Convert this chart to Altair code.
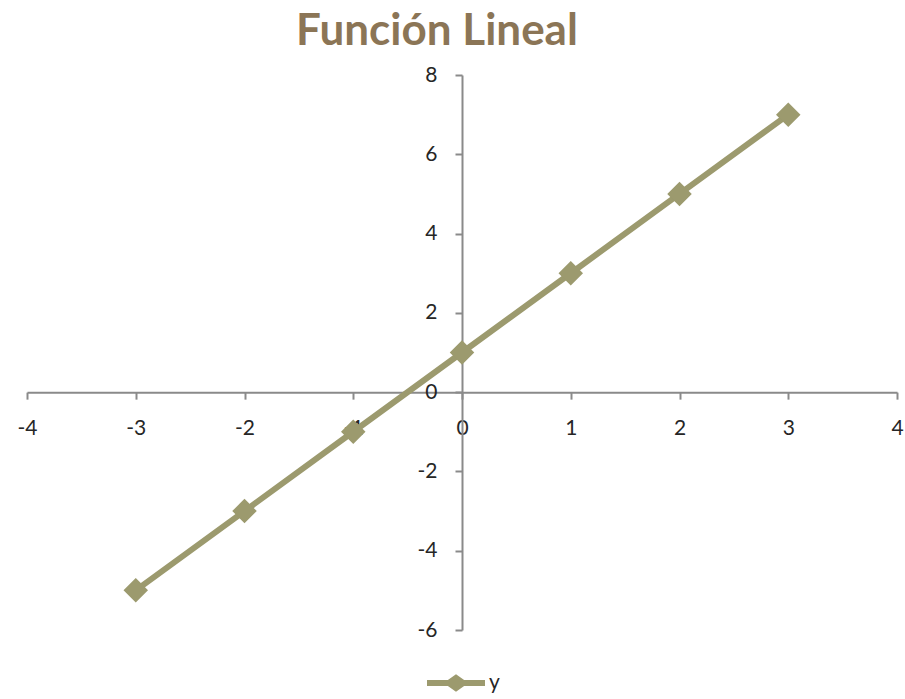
import altair as alt
import pandas as pd

# Series y = f(x) for the linear function
x_vals = [-3, -2, -1, 0, 1, 2, 3]
y_vals = [-5, -3, -1, 1, 3, 5, 7]
series_name = ["y"] * len(x_vals)

x_ticks = [-4, -3, -2, -1, 0, 1, 2, 3, 4]
y_ticks = [-6, -4, -2, 0, 2, 4, 6, 8]

df = pd.DataFrame({"x": x_vals, "y": y_vals, "serie": series_name})

W, H = 870, 555
X_DOM = [-4, 4]
Y_DOM = [-6, 8]
LINE_COLOR = "#9c9a6e"
AXIS_COLOR = "#8a8a8a"
TEXT_COLOR = "#262626"
FONT = "Lato"

# axes cross at the origin: shift them inwards by the pixel position of zero
y_axis_shift = -W * (0 - X_DOM[0]) / (X_DOM[1] - X_DOM[0])
x_axis_shift = -H * (0 - Y_DOM[0]) / (Y_DOM[1] - Y_DOM[0])

# plain hyphen for negative numbers
plain_label = "toString(datum.value)"

x_enc = alt.X(
    "x:Q",
    scale=alt.Scale(domain=X_DOM, nice=False, zero=False),
    axis=alt.Axis(
        values=x_ticks, title=None, grid=False, offset=x_axis_shift,
        domainColor=AXIS_COLOR, domainWidth=2, tickColor=AXIS_COLOR,
        tickWidth=2, tickSize=7, labelPadding=18, labelFontSize=21,
        labelFont=FONT, labelColor=TEXT_COLOR, labelFlush=False,
        labelOverlap=False, labelExpr=plain_label,
    ),
)
y_enc = alt.Y(
    "y:Q",
    scale=alt.Scale(domain=Y_DOM, nice=False, zero=False),
    axis=alt.Axis(
        values=y_ticks, title=None, grid=False, offset=y_axis_shift,
        domainColor=AXIS_COLOR, domainWidth=2, tickColor=AXIS_COLOR,
        tickWidth=2, tickSize=7, labelPadding=18, labelFontSize=21,
        labelFont=FONT, labelColor=TEXT_COLOR, labelFlush=False,
        labelOverlap=False, labelExpr=plain_label,
    ),
)

line = alt.Chart(df).mark_line(
    color=LINE_COLOR, strokeWidth=6, strokeCap="round", strokeJoin="round"
).encode(x=x_enc, y=y_enc)

# legend glyph: a thick line with a diamond in the middle
legend_glyph = (
    "M-1,-0.1L-0.28,-0.1L0,-0.3L0.28,-0.1L1,-0.1L1,0.1L0.28,0.1"
    "L0,0.3L-0.28,0.1L-1,0.1Z"
)

points = alt.Chart(df).mark_point(
    shape="diamond", filled=True, size=600, opacity=1
).encode(
    x=x_enc,
    y=y_enc,
    color=alt.Color(
        "serie:N",
        scale=alt.Scale(range=[LINE_COLOR]),
        legend=alt.Legend(
            title=None, orient="none", legendX=400, legendY=579,
            symbolType=legend_glyph, symbolSize=3364, symbolStrokeWidth=0,
            symbolOpacity=1, labelFontSize=21, labelFont=FONT,
            labelColor=TEXT_COLOR, labelOffset=4, padding=0,
        ),
    ),
)

chart = (
    alt.layer(line, points)
    .properties(
        width=W,
        height=H,
        background="white",
        title=alt.TitleParams(
            "Función Lineal", fontSize=44, font=FONT, fontWeight="bold",
            color="#8b7556", anchor="middle", dx=-25, offset=10,
        ),
        autosize=alt.AutoSizeParams(type="none"),
        padding={"left": 27, "top": 75, "right": 8, "bottom": 69},
    )
    .configure_view(strokeWidth=0, stroke="transparent")
)

chart.save("out.html", embed_options={"renderer": "svg", "actions": False})
